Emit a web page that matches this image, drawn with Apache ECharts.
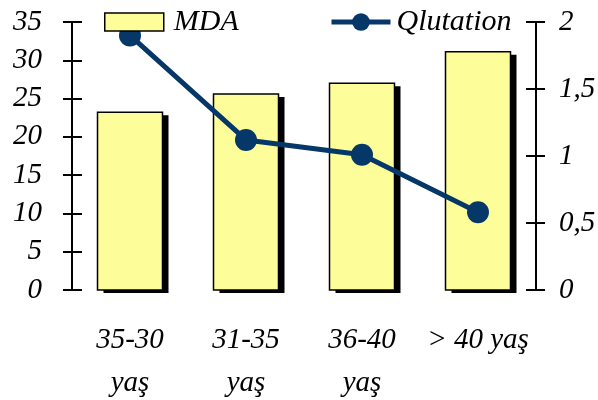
<!DOCTYPE html>
<html>
<head>
<meta charset="utf-8">
<script src="https://cdn.jsdelivr.net/npm/echarts@6/dist/echarts.min.js"></script>
<style>
  html, body { margin: 0; padding: 0; background: #fff; }
  #chart { width: 598px; height: 400px; }
</style>
</head>
<body>
<div id="chart"></div>
<script>
// Age groups on the category axis
const categories = ['35-30\nyaş', '31-35\nyaş', '36-40\nyaş', '> 40 yaş'];
// MDA values (left axis) and Qlutation values (right axis)
const mdaValues = [23.2, 25.6, 27.0, 31.1];
const qlutationValues = [1.90, 1.12, 1.01, 0.58];
// Axis ranges
const leftMax = 35, leftStep = 5;
const rightMax = 2, rightStep = 0.5;

const serif = '"Liberation Serif", "Times New Roman", serif';
const txt = { fontFamily: serif, fontStyle: 'italic', fontSize: 29, color: '#000' };
const navy = '#063769';
const barFill = '#fdfd99';
const barWidth = 65;
const shadowDx = 6, shadowDy = 3;

const chart = echarts.init(document.getElementById('chart'));

const baseY = (pos, max, step) => ({
  type: 'value', position: pos, min: 0, max: max, interval: step,
  splitLine: { show: false }
});

// bar with a solid drop shadow behind it
function renderBar(params, api) {
  const top = api.coord([api.value(0), api.value(1)]);
  const base = api.coord([api.value(0), 0]);
  const x = top[0] - barWidth / 2;
  const h = base[1] - top[1];
  return {
    type: 'group',
    children: [
      {
        type: 'rect',
        shape: { x: x + shadowDx, y: top[1] + shadowDy, width: barWidth, height: h },
        style: { fill: '#000' }
      },
      {
        type: 'rect',
        shape: { x: x, y: top[1], width: barWidth, height: h },
        style: { fill: barFill, stroke: '#000', lineWidth: 1.5 }
      }
    ]
  };
}

const legendText = Object.assign({}, txt, { fontSize: 30, lineHeight: 30 });

chart.setOption({
  animation: false,
  grid: { left: 72, right: 62, top: 22, bottom: 110, outerBoundsMode: 'none', containLabel: false },
  legend: [
    {
      data: [{ name: 'MDA', icon: 'rect',
               itemStyle: { color: barFill, borderColor: '#000', borderWidth: 1.5 } }],
      left: 104, top: 7, padding: 0, itemWidth: 59, itemHeight: 18, z: 10,
      textStyle: Object.assign({}, legendText, { padding: [0, 0, 0, 5] })
    },
    {
      data: [{ name: 'Qlutation', lineStyle: { width: 5, color: navy },
               itemStyle: { color: navy } }],
      left: 329, top: 7, padding: 0, itemWidth: 59, itemHeight: 22, z: 10,
      textStyle: Object.assign({}, legendText, { padding: [0, 0, 0, 1] })
    }
  ],
  xAxis: {
    type: 'category', data: categories,
    axisLine: { show: false }, axisTick: { show: false },
    axisLabel: Object.assign({}, txt, { margin: 29, lineHeight: 43, interval: 0 })
  },
  yAxis: [
    Object.assign(baseY('left', leftMax, leftStep), {
      axisLine: { show: true, lineStyle: { color: '#000', width: 2 } },
      axisTick: { show: true, length: 9, lineStyle: { color: '#000', width: 2 } },
      axisLabel: Object.assign({}, txt, { margin: 30 })
    }),
    Object.assign(baseY('right', rightMax, rightStep), {
      axisLine: { show: true, lineStyle: { color: '#000', width: 2 } },
      axisTick: { show: true, length: 9, lineStyle: { color: '#000', width: 2 } },
      axisLabel: Object.assign({}, txt, {
        margin: 23,
        formatter: v => String(v).replace('.', ',')
      })
    }),
    // inner halves of the crossing tick marks
    Object.assign(baseY('left', leftMax, leftStep), {
      axisLine: { show: false }, axisLabel: { show: false },
      axisTick: { show: true, inside: true, length: 10, lineStyle: { color: '#000', width: 2 } }
    }),
    Object.assign(baseY('right', rightMax, rightStep), {
      axisLine: { show: false }, axisLabel: { show: false },
      axisTick: { show: true, inside: true, length: 10, lineStyle: { color: '#000', width: 2 } }
    })
  ],
  series: [
    {
      name: 'MDA', type: 'custom', yAxisIndex: 0,
      data: mdaValues.map((v, i) => [i, v]),
      encode: { x: 0, y: 1 },
      itemStyle: { color: barFill },
      renderItem: renderBar
    },
    {
      name: 'Qlutation', type: 'line', yAxisIndex: 1, data: qlutationValues,
      symbol: 'circle', symbolSize: 22,
      lineStyle: { color: navy, width: 5 },
      itemStyle: { color: navy }
    }
  ]
});
</script>
</body>
</html>
